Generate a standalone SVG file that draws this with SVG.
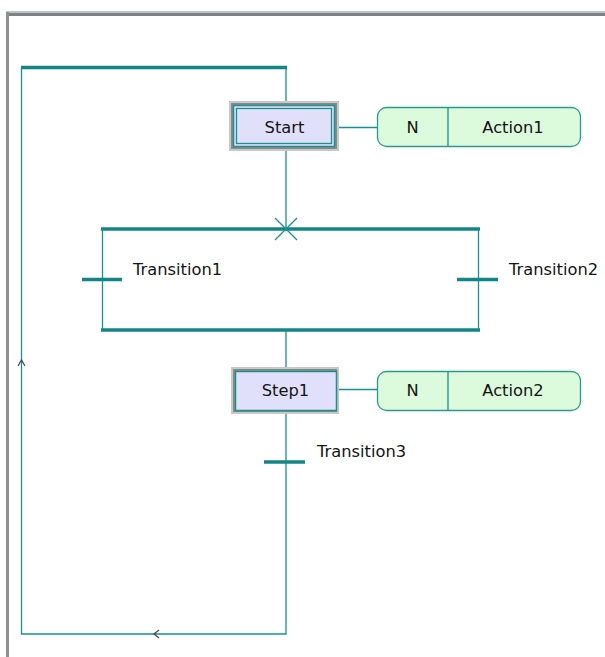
<svg xmlns="http://www.w3.org/2000/svg" width="605" height="657" viewBox="0 0 605 657">
<style>
.ln{stroke:#1a9090;stroke-width:1.3;fill:none}
.thick{stroke:#138585;stroke-width:3.5;fill:none}
.step{fill:#e0e0fa;stroke:#1a9090;stroke-width:1.5}
.act{fill:#dcfadc;stroke:#2a9a90;stroke-width:1.3}
.t{font-family:"DejaVu Sans",Verdana,sans-serif;font-size:16.3px;fill:#141414}
.arr{stroke:#444;stroke-width:1.2;fill:none}
</style>
<rect x="0" y="0" width="605" height="657" fill="#fff"/>
<!-- frame -->
<rect x="6" y="11" width="599" height="2" fill="#b8c4d4"/>
<rect x="6" y="13" width="599" height="3" fill="#808080"/>
<rect x="6" y="12" width="3" height="645" fill="#909090"/>
<g id="connectors">
  <polyline class="ln" points="286,67 286,104"/>
  <line class="thick" x1="21" y1="67.5" x2="287" y2="67.5"/>
  <polyline class="ln" points="21.5,67 21.5,634 286,634 286,462"/>
  <line class="ln" x1="286" y1="150" x2="286" y2="229"/>
  <line class="ln" x1="337" y1="127.5" x2="377" y2="127.5"/>
  <line class="thick" x1="101" y1="229" x2="480" y2="229"/>
  <line class="thick" x1="101" y1="330" x2="480" y2="330"/>
  <line class="ln" x1="102.5" y1="229" x2="102.5" y2="330"/>
  <line class="ln" x1="478.5" y1="229" x2="478.5" y2="330"/>
  <line class="ln" x1="275" y1="218" x2="297" y2="240"/>
  <line class="ln" x1="297" y1="218" x2="275" y2="240"/>
  <line class="ln" x1="286" y1="330" x2="286" y2="370"/>
  <line class="ln" x1="286" y1="412" x2="286" y2="462"/>
  <line class="ln" x1="338" y1="389.5" x2="377" y2="389.5"/>
  <polyline class="arr" points="18,366 21.5,360 25,366"/>
  <polyline class="arr" points="159,630 154,634 159,638"/>
</g>
<g id="start">
  <rect x="229" y="101" width="110" height="50" fill="#c8c8c8"/>
  <rect x="231" y="103" width="106" height="46" fill="#8a8a8a"/>
  <rect x="233.5" y="105.5" width="101" height="41" fill="#e0e0fa" stroke="#1a9090" stroke-width="1.5"/>
  <rect x="236.5" y="108.5" width="95" height="35" fill="#e0e0fa" stroke="#1a9090" stroke-width="1.3"/>
  <text class="t" x="284.5" y="133" text-anchor="middle">Start</text>
</g>
<g id="action1">
  <rect class="act" x="377.5" y="107.5" width="203" height="39" rx="9"/>
  <line class="ln" x1="448" y1="107.5" x2="448" y2="146.5"/>
  <text class="t" x="412.5" y="133" text-anchor="middle">N</text>
  <text class="t" x="513" y="133" text-anchor="middle">Action1</text>
</g>
<g id="transition1">
  <line class="thick" x1="82" y1="279.5" x2="122" y2="279.5"/>
  <text class="t" x="133" y="275">Transition1</text>
</g>
<g id="transition2">
  <line class="thick" x1="457" y1="279.5" x2="498" y2="279.5"/>
  <text class="t" x="509" y="275">Transition2</text>
</g>
<g id="step1">
  <rect x="231" y="367" width="108" height="47" fill="#c8c8c8"/>
  <rect x="233" y="369" width="104" height="43" fill="#8a8a8a"/>
  <rect class="step" x="235.5" y="371.5" width="101" height="39"/>
  <text class="t" x="285.5" y="396" text-anchor="middle">Step1</text>
</g>
<g id="action2">
  <rect class="act" x="377.5" y="371.5" width="203" height="39" rx="9"/>
  <line class="ln" x1="448" y1="371.5" x2="448" y2="410.5"/>
  <text class="t" x="412.5" y="396" text-anchor="middle">N</text>
  <text class="t" x="513" y="396" text-anchor="middle">Action2</text>
</g>
<g id="transition3">
  <line class="thick" x1="264" y1="462" x2="305" y2="462"/>
  <text class="t" x="317" y="457">Transition3</text>
</g>
</svg>
